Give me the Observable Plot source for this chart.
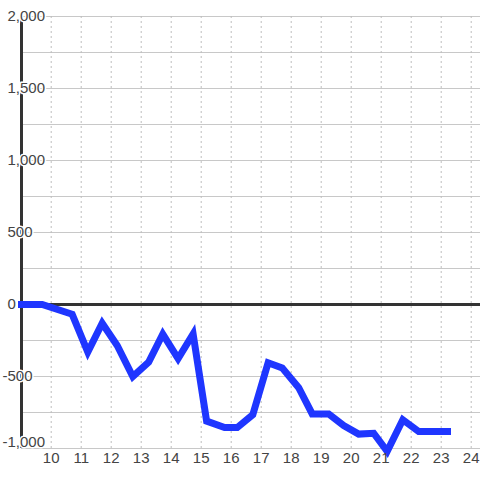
<!DOCTYPE html>
<html>
<head>
<meta charset="utf-8">
<script src="https://cdn.jsdelivr.net/npm/d3@7"></script>
<script src="https://cdn.jsdelivr.net/npm/@observablehq/plot@0.6"></script>
<style>
  html, body { margin: 0; padding: 0; background: #fff; }
  #chart svg { display: block; }
</style>
</head>
<body>
<div id="chart"></div>
<script>
// Series (x = day value, y = value)
const xValues = [9.01, 9.7, 10.7, 11.22, 11.7, 12.2, 12.72, 13.25, 13.72, 14.23, 14.73, 15.18, 15.78, 16.2, 16.72, 17.23, 17.7, 18.25, 18.7, 19.25, 19.75, 20.25, 20.75, 21.2, 21.72, 22.25, 23.21];
const yValues = [0, 0, -68, -330, -130, -285, -500, -400, -205, -375, -205, -810, -855, -855, -765, -405, -440, -578, -760, -760, -840, -900, -894, -1020, -800, -882, -882];

// Axis ticks
const xTicks = [10, 11, 12, 13, 14, 15, 16, 17, 18, 19, 20, 21, 22, 23, 24];
const yGrid = [-1000, -750, -500, -250, 0, 250, 500, 750, 1000, 1250, 1500, 1750, 2000];
const yTicks = [-1000, -500, 0, 500, 1000, 1500, 2000];

const data = xValues.map((x, i) => ({x, y: yValues[i]}));
const xDomain = [9.01, 24.31];
const yDomain = [-1000, 2000];
const fmt = d3.format(",");
const font = "'Liberation Sans', Arial, sans-serif";

function yLabelMarks(ticks, dy) {
  const common = {
    y: d => d,
    frameAnchor: "left",
    dx: -14,
    dy,
    fontSize: 15,
    fill: "#444",
    stroke: "#fff",
    strokeWidth: 3,
    paintOrder: "stroke"
  };
  return [
    Plot.text(ticks, {...common, textAnchor: "start", text: d => fmt(Math.abs(d))}),
    Plot.text(ticks.filter(d => d < 0), {...common, textAnchor: "end", text: () => "-"})
  ];
}

const chart = Plot.plot({
  width: 480,
  height: 480,
  marginLeft: 21,
  marginRight: 0,
  marginTop: 16,
  marginBottom: 32,
  x: {domain: xDomain, axis: null},
  y: {domain: yDomain, axis: null},
  style: {fontFamily: font, background: "#fff", overflow: "visible"},
  marks: [
    Plot.ruleY(yGrid, {stroke: "#c8c8c8", strokeWidth: 1}),
    Plot.ruleX(xTicks, {stroke: "#bdbdbd", strokeWidth: 1, strokeDasharray: "2,3"}),
    Plot.ruleY([0], {stroke: "#333", strokeWidth: 3}),
    Plot.ruleX([xDomain[0]], {stroke: "#333", strokeWidth: 3}),
    Plot.line(data, {x: "x", y: "y", stroke: "#1f36ff", strokeWidth: 7, strokeLinecap: "square", strokeLinejoin: "miter", strokeMiterlimit: 10}),
    ...yLabelMarks(yTicks.filter(d => d > yDomain[0]), 0),
    ...yLabelMarks(yTicks.filter(d => d === yDomain[0]), -6),
    Plot.text(xTicks, {
      x: d => d,
      frameAnchor: "bottom",
      dy: 14,
      text: d => String(d),
      fontSize: 15,
      fill: "#444"
    })
  ]
});

document.getElementById("chart").appendChild(chart);
</script>
</body>
</html>
